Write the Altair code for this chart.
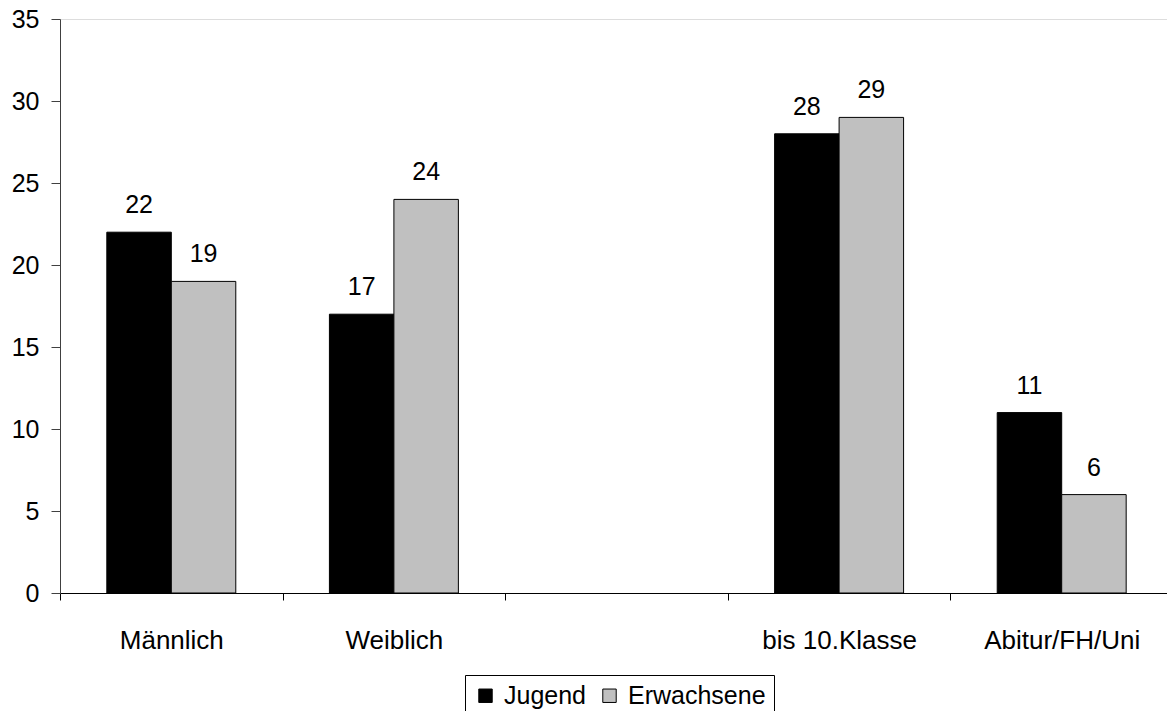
import altair as alt
import pandas as pd

categories = ["Männlich", "Weiblich", " ", "bis 10.Klasse", "Abitur/FH/Uni"]
series = ["Jugend", "Erwachsene"]
jugend = [22, 17, None, 28, 11]
erwachsene = [19, 24, None, 29, 6]

rows = []
for c, j, e in zip(categories, jugend, erwachsene):
    if j is not None:
        rows.append({"cat": c, "series": "Jugend", "value": j})
    if e is not None:
        rows.append({"cat": c, "series": "Erwachsene", "value": e})
df = pd.DataFrame(rows)

FONT = "Liberation Sans"

x = alt.X(
    "cat:N",
    sort=categories,
    scale=alt.Scale(domain=categories, paddingInner=0, paddingOuter=0),
    axis=alt.Axis(
        title=None,
        labelAngle=0,
        labelFontSize=26,
        labelFont=FONT,
        labelColor="black",
        labelPadding=27,
        tickBand="extent",
        tickSize=7,
        tickColor="black",
        domainColor="black",
        labelFlush=False,
    ),
)
xoff = alt.XOffset(
    "series:N",
    sort=series,
    scale=alt.Scale(domain=series, paddingOuter=0.726, paddingInner=0),
)
y = alt.Y(
    "value:Q",
    scale=alt.Scale(domain=[0, 35], nice=False),
    axis=alt.Axis(
        title=None,
        values=[0, 5, 10, 15, 20, 25, 30, 35],
        labelFontSize=25,
        labelFont=FONT,
        labelColor="black",
        labelPadding=12,
        tickSize=9,
        tickColor="#404040",
        domainColor="#404040",
        grid=False,
    ),
)
color = alt.Color(
    "series:N",
    sort=series,
    scale=alt.Scale(domain=series, range=["#000000", "#C0C0C0"]),
    legend=alt.Legend(
        title=None,
        orient="none",
        legendX=405,
        legendY=656,
        direction="horizontal",
        strokeColor="black",
        fillColor="white",
        padding=8,
        symbolType="square",
        symbolSize=180,
        symbolStrokeColor="black",
        symbolStrokeWidth=1,
        labelFontSize=25,
        labelFont=FONT,
        labelColor="black",
        labelOffset=6,
        columnPadding=10,
    ),
)

base = alt.Chart(df)
bars = base.mark_bar(stroke="black", strokeWidth=1).encode(x=x, xOffset=xoff, y=y, color=color)
labels = base.mark_text(
    font=FONT, fontSize=25, color="black", baseline="alphabetic", dy=-19
).encode(x=x, xOffset=xoff, y=y, text=alt.Text("value:Q"))

chart = (
    alt.layer(bars, labels)
    .properties(
        width=1113,
        height=574,
        padding={"left": 52, "top": 11, "right": -6, "bottom": 120},
        autosize=alt.AutoSizeParams(type="none"),
    )
    .configure_view(stroke="#808080", strokeWidth=1)
    .configure(background="white")
)

chart.save("out.html", embed_options={"renderer": "svg", "actions": False})
